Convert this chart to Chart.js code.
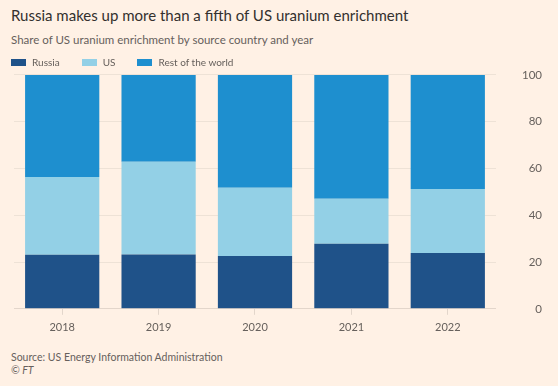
<!DOCTYPE html>
<html>
<head>
<meta charset="utf-8">
<script src="https://cdn.jsdelivr.net/npm/chart.js@4"></script>
<style>
  html, body { margin: 0; padding: 0; }
  body { width: 558px; height: 386px; background: #fff1e5; position: relative; overflow: hidden; font-family: Lato, sans-serif; }
  #chart { position: absolute; left: 0; top: 55px; }
  .title { position: absolute; left: 11px; top: 5px; font-size: 15px; line-height: 20px; color: #33302e; white-space: nowrap; }
  .subtitle { position: absolute; left: 11px; top: 32px; font-size: 11.5px; line-height: 16px; color: #66605c; white-space: nowrap; }
  .legend { position: absolute; left: 11px; top: 55px; font-size: 10px; line-height: 14px; color: #66605c; display: flex; z-index: 2; }
  .legend span.item { display: flex; align-items: center; margin-right: 22px; }
  .legend span.sw { display: inline-block; width: 15px; height: 7px; margin-right: 6px; }
  .source { position: absolute; left: 11px; top: 350px; font-size: 10.5px; line-height: 14px; color: #66605c; white-space: nowrap; }
  .ft { position: absolute; left: 11px; top: 363px; font-size: 10.5px; line-height: 14px; color: #66605c; font-style: italic; }
</style>
</head>
<body>
<canvas id="chart" width="558" height="285"></canvas>
<div class="title">Russia makes up more than a fifth of US uranium enrichment</div>
<div class="subtitle">Share of US uranium enrichment by source country and year</div>
<div class="legend" id="legend"></div>
<div class="source">Source: US Energy Information Administration</div>
<div class="ft">© FT</div>
<script>
const years = ['2018', '2019', '2020', '2021', '2022'];
const russia = [23.1, 23.2, 22.6, 27.8, 23.9];
const us = [33.2, 39.7, 29.2, 19.2, 27.3];
const restOfWorld = [43.7, 37.1, 48.2, 53.0, 48.8];
const yTicks = [0, 20, 40, 60, 80, 100];

const series = [
  { label: 'Russia', data: russia, color: '#1f5289' },
  { label: 'US', data: us, color: '#93d0e6' },
  { label: 'Rest of the world', data: restOfWorld, color: '#1e8fcf' }
];

// legend is plain html, same colours as the datasets
const legend = document.getElementById('legend');
series.forEach(function(s) {
  const item = document.createElement('span');
  item.className = 'item';
  item.innerHTML = '<span class="sw" style="background:' + s.color + '"></span>' + s.label;
  legend.appendChild(item);
});

const ctx = document.getElementById('chart').getContext('2d');
new Chart(ctx, {
  type: 'bar',
  data: {
    labels: years,
    datasets: series.map(function(s) {
      return {
        label: s.label,
        data: s.data,
        backgroundColor: s.color,
        borderWidth: 0,
        categoryPercentage: 0.77,
        barPercentage: 1
      };
    })
  },
  options: {
    responsive: false,
    animation: false,
    layout: { padding: { left: 14, right: 16, top: 4, bottom: 0 } },
    plugins: {
      legend: { display: false },
      tooltip: { enabled: false }
    },
    scales: {
      x: {
        stacked: true,
        grid: { offset: false, drawOnChartArea: false, drawTicks: true, tickLength: 6, color: '#e3d6cb' },
        border: { display: true, color: '#e3d6cb' },
        ticks: { color: '#66605c', font: { family: 'Lato', size: 11 }, padding: 6 }
      },
      y: {
        stacked: true,
        position: 'right',
        min: 0,
        max: 100,
        afterBuildTicks: function(axis) {
          axis.ticks = yTicks.map(function(v) { return { value: v }; });
        },
        grid: { drawTicks: false, color: '#eee2d6' },
        border: { display: false },
        ticks: { color: '#66605c', crossAlign: 'far', padding: 13, font: { family: 'Lato', size: 11.5 } }
      }
    }
  }
});
</script>
</body>
</html>
